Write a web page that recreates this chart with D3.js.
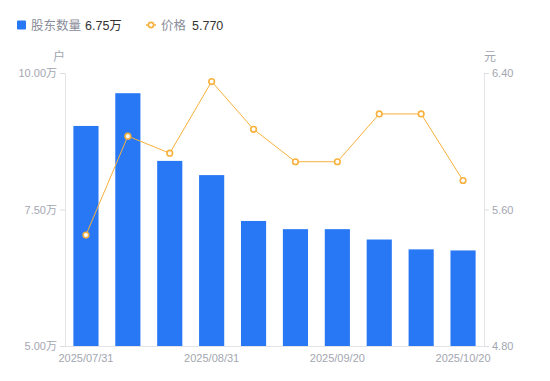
<!DOCTYPE html>
<html>
<head>
<meta charset="utf-8">
<script src="https://cdn.jsdelivr.net/npm/d3@7"></script>
<style>
  body { margin: 0; background: #fff; }
  text { font-family: "Liberation Sans", Arial, "Noto Sans CJK SC", sans-serif; }
</style>
</head>
<body>
<div id="chart"></div>
<script>
const dates = ['2025/07/31', '2025/08/10', '2025/08/20', '2025/08/31', '2025/09/05',
               '2025/09/10', '2025/09/20', '2025/09/30', '2025/10/10', '2025/10/20'];
const holders = [9.03, 9.63, 8.39, 8.13, 7.29, 7.14, 7.14, 6.95, 6.77, 6.75]; // 万户
const prices = [5.45, 6.03, 5.93, 6.35, 6.07, 5.88, 5.88, 6.16, 6.16, 5.77];
const shownDates = ['2025/07/31', '2025/08/31', '2025/09/20', '2025/10/20'];
const leftTicks = [5, 7.5, 10];
const rightTicks = [4.8, 5.6, 6.4];

const width = 550, height = 381;
const margin = {top: 73, right: 66, bottom: 35, left: 65};
const blue = '#2878f5', orange = '#f8b13c', grey = '#a3a6b0';

const svg = d3.select('#chart')
    .append('svg')
    .attr('width', width)
    .attr('height', height);

const x = d3.scaleBand()
    .domain(dates)
    .range([margin.left, width - margin.right])
    .paddingInner(0.4)
    .paddingOuter(0.2);

const yL = d3.scaleLinear().domain([5, 10]).range([height - margin.bottom, margin.top]);
const yR = d3.scaleLinear().domain([4.8, 6.4]).range([height - margin.bottom, margin.top]);

// axes
const leftAxis = svg.append('g')
    .attr('transform', `translate(${margin.left},0)`)
    .call(d3.axisLeft(yL).tickValues(leftTicks).tickSize(5).tickPadding(3)
        .tickFormat(d => d3.format('.2f')(d) + '万'));
const rightAxis = svg.append('g')
    .attr('transform', `translate(${width - margin.right},0)`)
    .call(d3.axisRight(yR).tickValues(rightTicks).tickSize(5).tickPadding(3)
        .tickFormat(d3.format('.2f')));
const bottomAxis = svg.append('g')
    .attr('transform', `translate(0,${height - margin.bottom})`)
    .call(d3.axisBottom(x).tickValues(shownDates).tickSize(0).tickPadding(8).tickSizeOuter(0));

for (const g of [leftAxis, rightAxis, bottomAxis]) {
    g.select('.domain').attr('stroke', '#e3e4e8');
    g.selectAll('.tick line').attr('stroke', '#dcdde2');
    g.selectAll('.tick text').attr('fill', grey).attr('font-size', 11);
}
bottomAxis.select('.domain').attr('d', `M${margin.left},0.5H${width - margin.right}`);

// unit labels
svg.append('text').attr('x', 59).attr('y', 61).attr('text-anchor', 'middle')
    .attr('fill', grey).attr('font-size', 12).text('户');
svg.append('text').attr('x', 490).attr('y', 61).attr('text-anchor', 'middle')
    .attr('fill', grey).attr('font-size', 12).text('元');

// bars
svg.selectAll('.bar')
    .data(dates)
    .enter().append('rect')
    .attr('class', 'bar')
    .attr('x', d => x(d))
    .attr('width', x.bandwidth())
    .attr('y', (d, i) => yL(holders[i]))
    .attr('height', (d, i) => yL(5) - yL(holders[i]))
    .attr('fill', blue);

// price line
const line = d3.line()
    .x((d, i) => x(dates[i]) + x.bandwidth() / 2)
    .y(d => yR(d));
svg.append('path')
    .datum(prices)
    .attr('d', line)
    .attr('fill', 'none')
    .attr('stroke', orange)
    .attr('stroke-width', 1);
svg.selectAll('.pt')
    .data(prices)
    .enter().append('circle')
    .attr('class', 'pt')
    .attr('cx', (d, i) => x(dates[i]) + x.bandwidth() / 2)
    .attr('cy', d => yR(d))
    .attr('r', 2.8)
    .attr('fill', '#fff')
    .attr('stroke', orange)
    .attr('stroke-width', 1.6);

// legend
const legend = svg.append('g').attr('transform', 'translate(0,25)');
legend.append('rect').attr('x', 17).attr('y', -4.5).attr('width', 9).attr('height', 9)
    .attr('rx', 1).attr('fill', blue);
legend.append('text').attr('x', 31).attr('y', 4.5).attr('font-size', 12.5)
    .attr('fill', '#8a8d99').text('股东数量');
legend.append('text').attr('x', 85).attr('y', 4.5).attr('font-size', 12.5)
    .attr('fill', '#333').text(d3.format('.2f')(holders[holders.length - 1]) + '万');
legend.append('line').attr('x1', 146).attr('x2', 156).attr('y1', 0).attr('y2', 0)
    .attr('stroke', orange).attr('stroke-width', 1.5);
legend.append('circle').attr('cx', 151).attr('cy', 0).attr('r', 2.6)
    .attr('fill', '#fff').attr('stroke', orange).attr('stroke-width', 1.6);
legend.append('text').attr('x', 161).attr('y', 4.5).attr('font-size', 12.5)
    .attr('fill', '#8a8d99').text('价格');
legend.append('text').attr('x', 192).attr('y', 4.5).attr('font-size', 12.5)
    .attr('fill', '#333').text(d3.format('.3f')(prices[prices.length - 1]));
</script>
</body>
</html>
